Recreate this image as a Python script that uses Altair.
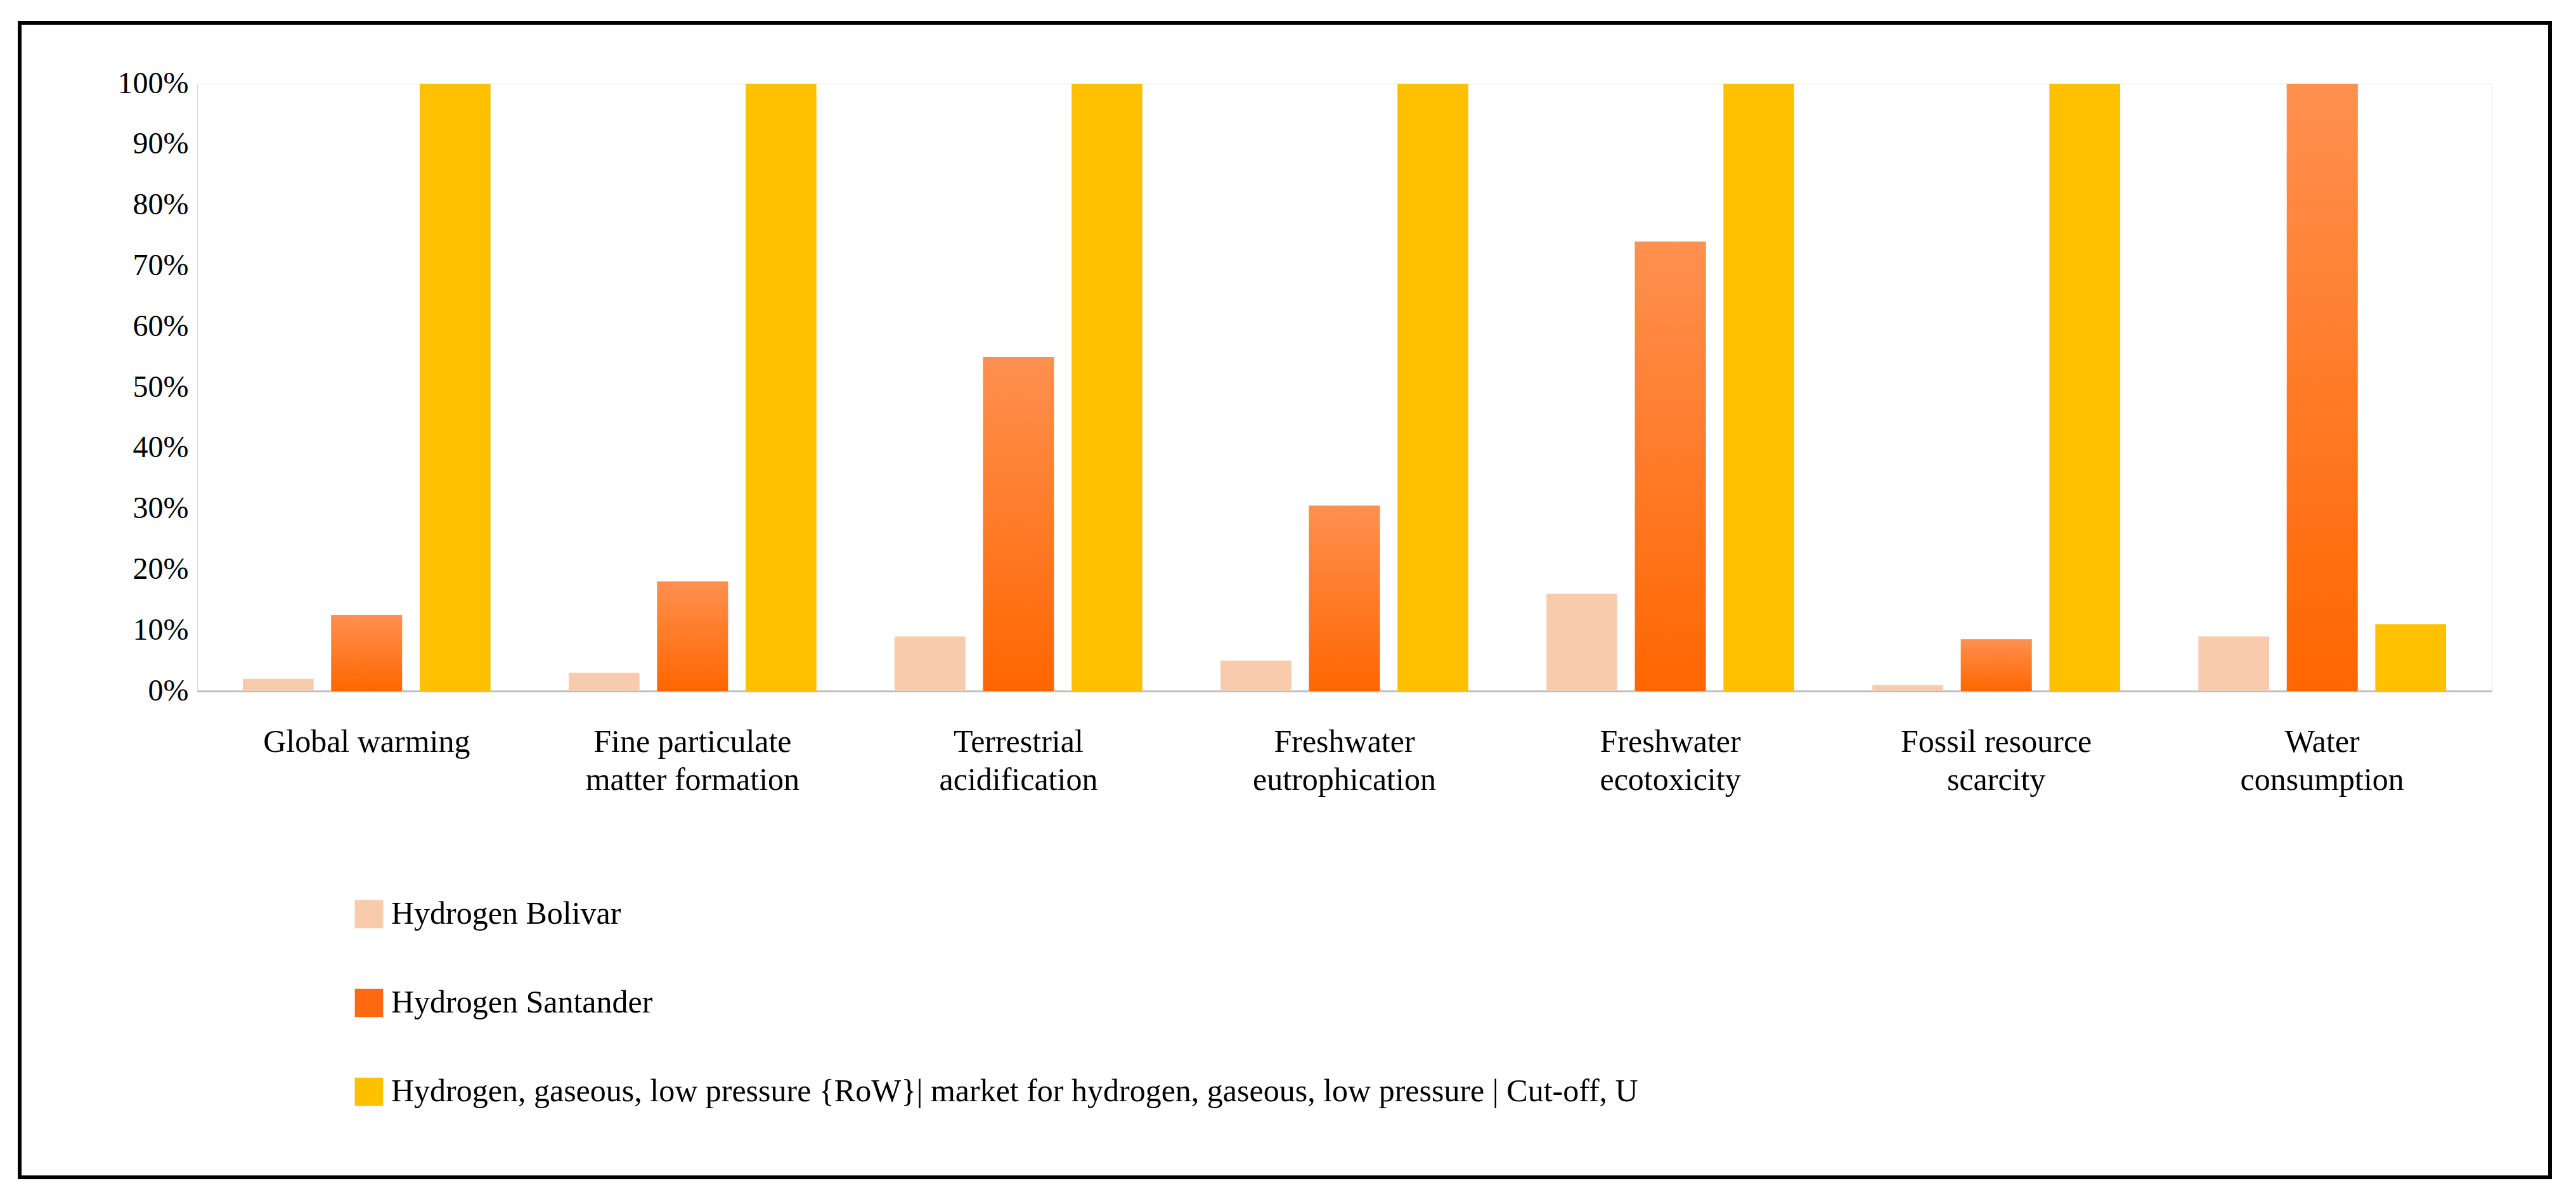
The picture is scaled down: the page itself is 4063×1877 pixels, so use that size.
import altair as alt
import pandas as pd

categories = ["Global warming", "Fine particulate\nmatter formation", "Terrestrial\nacidification",
              "Freshwater\neutrophication", "Freshwater\necotoxicity", "Fossil resource\nscarcity", "Water\nconsumption"]
series = ["Hydrogen Bolivar", "Hydrogen Santander",
          "Hydrogen, gaseous, low pressure {RoW}| market for hydrogen, gaseous, low pressure | Cut-off, U"]
bolivar = [2, 3, 9, 5, 16, 1, 9]
santander = [12.5, 18, 55, 30.5, 74, 8.5, 100]
market = [100, 100, 100, 100, 100, 100, 11]

rows = []
for i, c in enumerate(categories):
    for s, v in zip(series, [bolivar[i], santander[i], market[i]]):
        rows.append({"cat": c, "series": s, "value": v / 100})
df = pd.DataFrame(rows)

W, H = 3619, 958
FONT = "Liberation Serif"

x = alt.X("cat:N", sort=categories, title=None,
          scale=alt.Scale(paddingInner=0.24, paddingOuter=0.14),
          axis=alt.Axis(labelAngle=0, labelExpr="split(datum.label, '\\n')", labelFontSize=50,
                        labelPadding=55, ticks=False, domainColor="#BFBFBF", domainWidth=3,
                        labelColor="#000", labelFont=FONT, labelLineHeight=60, labelLimit=1000,
                        labelOverlap=False))
xo = alt.XOffset("series:N", sort=series, scale=alt.Scale(paddingInner=0.2))
y = alt.Y("value:Q", title=None, scale=alt.Scale(domain=[0, 1]),
          axis=alt.Axis(format="%", values=[i / 10 for i in range(11)], grid=False,
                        ticks=False, domain=False, labelFontSize=48, labelColor="#000",
                        labelFont=FONT, labelPadding=14, labelOverlap=False))

color = alt.Color("series:N", sort=series,
                  scale=alt.Scale(domain=series, range=["#F8CBAD", "#FF6A10", "#FFC000"]),
                  legend=alt.Legend(title=None, orient="none", legendX=246, legendY=1285,
                                    direction="vertical", labelFontSize=50, labelFont=FONT,
                                    labelColor="#000", symbolType="square", symbolSize=2000,
                                    symbolStrokeWidth=0, rowPadding=90, labelLimit=4000,
                                    labelOffset=10))

bars = alt.Chart(df).mark_bar().encode(x=x, xOffset=xo, y=y, color=color)

grad = alt.Gradient(gradient="linear", x1=0, y1=0, x2=0, y2=1,
                    stops=[alt.GradientStop(color="#FF9050", offset=0),
                           alt.GradientStop(color="#FF6600", offset=1)])
sant = alt.Chart(df).transform_filter(alt.datum.series == "Hydrogen Santander").mark_bar(fill=grad).encode(
    x=x, xOffset=xo, y=y)

frame = alt.Chart(df).mark_rect(fill=None, stroke="#000", strokeWidth=5, clip=False).encode(
    x=alt.value(-280), x2=alt.value(3711), y=alt.value(-96), y2=alt.value(1725))

chart = alt.layer(bars, sant, frame).properties(
    width=W, height=H, autosize=alt.AutoSizeParams(type="none"),
    padding={"left": 303, "top": 124, "right": 120, "bottom": 780}
).configure_view(stroke="#BFBFBF", strokeWidth=4).configure(background="white")

chart.save("out.html", embed_options={"renderer": "svg", "actions": False})
